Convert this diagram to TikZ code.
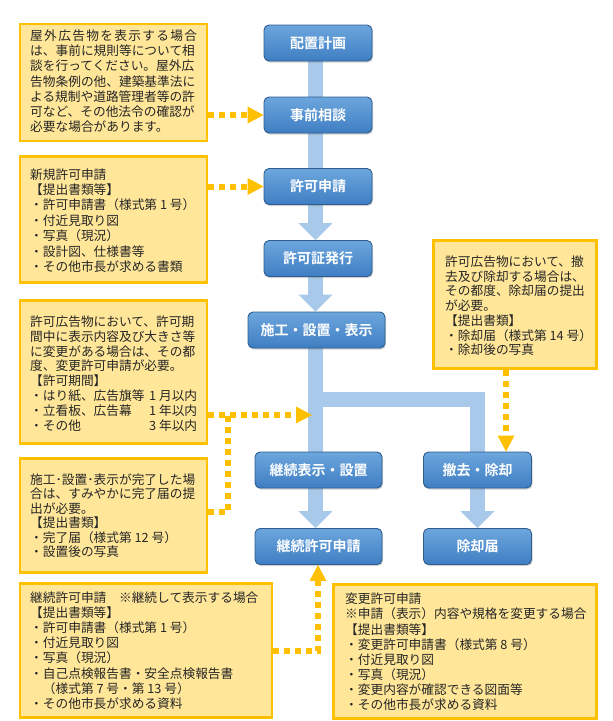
\documentclass[tikz,border=0pt]{standalone}
\usepackage{fontspec}
\setmainfont{Noto Sans CJK JP}[BoldFont={Noto Sans CJK JP Bold}]
\usetikzlibrary{arrows.meta,shadows,backgrounds}
\definecolor{ylfill}{HTML}{FFE699}
\definecolor{ylline}{HTML}{FFC000}
\definecolor{bltop}{HTML}{6CA6DD}
\definecolor{blbot}{HTML}{3F7EC3}
\definecolor{blline}{HTML}{2E5D8E}
\definecolor{trunkblue}{HTML}{A9C9EA}
\definecolor{notetxt}{HTML}{262626}
\newcommand\notepar[3]{\parbox[t]{#1}{\fontsize{12.7}{#2}\selectfont #3}}
\newcommand\fullline[1]{\leavevmode\hbox to 167pt{#1}}
\tikzset{
  flowbox/.style={rectangle, rounded corners=5pt, draw=blline, line width=0.9pt,
    top color=bltop, bottom color=blbot, text=white, inner sep=0pt,
    font=\fontsize{14}{16}\selectfont\bfseries, minimum height=36pt,
    drop shadow={opacity=0.3,shadow xshift=1pt,shadow yshift=-1.5pt,fill=black!60}},
  notebox/.style={rectangle, draw=ylline, fill=ylfill, line width=2.2pt, inner sep=0pt},
  notetext/.style={anchor=base west, inner sep=0pt, text=notetxt},
  dotline/.style={draw=ylline, line width=6pt, dash pattern=on 6pt off 5pt},
  dotarrow/.style={dotline, -{Triangle[length=16pt,width=17pt,line width=0pt]}},
  stem/.style={draw=trunkblue, line width=15pt},
  stemarrow/.style={stem, -{Triangle[length=17pt,width=34pt,line width=0pt]}},
}
\begin{document}
\begin{tikzpicture}[x=1pt,y=-1pt]
\useasboundingbox (0,0) rectangle (613,721);

% flow boxes
\node[flowbox, minimum width=108pt] (s1) at (318,43) {配置計画};
\node[flowbox, minimum width=108pt] (s2) at (318,115) {事前相談};
\node[flowbox, minimum width=108pt] (s3) at (318,186.5) {許可申請};
\node[flowbox, minimum width=108pt] (s4) at (318,258.5) {許可証発行};
\node[flowbox, minimum width=137pt] (s5) at (316.5,330) {施工・設置・表示};
\node[flowbox, minimum width=127pt] (s6) at (318.5,470) {継続表示・設置};
\node[flowbox, minimum width=108pt] (s8) at (477.5,470) {撤去・除却};
\node[flowbox, minimum width=127pt] (s7) at (318.5,546.5) {継続許可申請};
\node[flowbox, minimum width=108pt] (s9) at (477.5,546.5) {除却届};

% trunk
\coordinate (tx) at (315.5,0);
\coordinate (br) at (315.5,399.5);
\begin{scope}[on background layer]
\draw[stem] (s1 -| tx) -- (s3 -| tx);
\draw[stemarrow] (s3 -| tx) -- (s4.north -| tx);
\draw[stemarrow] (s4 -| tx) -- (s5.north -| tx);
\draw[stem] (s5 -| tx) -- (s6 -| tx);
\draw[stemarrow] (s6 -| tx) -- (s7.north -| tx);
\draw[stem] (br) -| (s8);
\draw[stemarrow] (s8) -- (s9.north);
\end{scope}

% note boxes
\node[notebox, minimum width=187pt, minimum height=117pt] (n1) at (113.8,82.5) {};
\node[notebox, minimum width=187pt, minimum height=126pt] (n2) at (113.8,219.5) {};
\node[notebox, minimum width=187pt, minimum height=143pt] (n3) at (113.8,372) {};
\node[notebox, minimum width=187pt, minimum height=114pt] (n4) at (113.8,515.5) {};
\node[notebox, minimum width=252pt, minimum height=134pt] (n5) at (146.3,650.5) {};
\node[notebox, minimum width=263pt, minimum height=134pt] (n6) at (465,651.5) {};
\node[notebox, minimum width=163pt, minimum height=128pt] (n7) at (515,304.5) {};

\node[notetext] (t1) at (30,40.5) {\notepar{170pt}{15.2pt}{%
\fullline{屋\hfil 外\hfil 広\hfil 告\hfil 物\hfil を\hfil 表\hfil 示\hfil す\hfil る\hfil 場\hfil 合}\\
は、事前に規則等について相\\
談を行ってください。屋外広\\
告物条例の他、建築基準法に\\
よる規制や道路管理者等の許\\
可など、その他法令の確認が\\
必要な場合があります。}};

\node[notetext] (t2) at (30,179.1) {\notepar{170pt}{15.4pt}{%
新規許可申請\\
【提出書類等】\\
・許可申請書（様式第 1 号）\\
・付近見取り図\\
・写真（現況）\\
・設計図、仕様書等\\
・その他市長が求める書類}};

\node[notetext] (t3) at (30,326.5) {\notepar{170pt}{14.8pt}{%
許可広告物において、許可期\\
間中に表示内容及び大きさ等\\
に変更がある場合は、その都\\
度、変更許可申請が必要。\\
【許可期間】\\
\fullline{・はり紙、広告旗等\hfill 1 月以内}\\
\fullline{・立看板、広告幕\hfill 1 年以内}\\
\fullline{・その他\hfill 3 年以内}}};

\node[notetext] (t4) at (30,484.1) {\notepar{170pt}{14.5pt}{%
施工･設置･表示が完了した場\\
合は、すみやかに完了届の提\\
出が必要。\\
【提出書類】\\
・完了届（様式第 12 号）\\
・設置後の写真}};

\node[notetext] (t5) at (30,602.5) {\notepar{240pt}{15.1pt}{%
継続許可申請　※継続して表示する場合\\
【提出書類等】\\
・許可申請書（様式第 1 号）\\
・付近見取り図\\
・写真（現況）\\
・自己点検報告書・安全点検報告書\\
　（様式第 7 号・第 13 号）\\
・その他市長が求める資料}};

\node[notetext] (t6) at (345,603.8) {\notepar{245pt}{15.1pt}{%
変更許可申請\\
※申請（表示）内容や規格を変更する場合\\
【提出書類等】\\
・変更許可申請書（様式第 8 号）\\
・付近見取り図\\
・写真（現況）\\
・変更内容が確認できる図面等\\
・その他市長が求める資料}};

\node[notetext] (t7) at (445,266.5) {\notepar{150pt}{14.7pt}{%
許可広告物において、撤\\
去及び除却する場合は、\\
その都度、除却届の提出\\
が必要。\\
【提出書類】\\
・除却届（様式第 14 号）\\
・除却後の写真}};

% dotted connectors
\coordinate (t3p) at (312,415);
\coordinate (j3) at (228,415);
\coordinate (j4) at (228,512);
\coordinate (d7) at (506,0);
\coordinate (c5) at (318,651);
\draw[dotarrow] (n1.east |- s2.west) -- (s2.west);
\draw[dotarrow] (n2.east |- s3.west) -- (s3.west);
\draw[dotarrow] (n3.east |- t3p) -- (t3p);
\draw[dotline] (n4.east |- j4) -- (j4) -- (j3);
\draw[dotarrow] (n7.south -| d7) -- (s8.north -| d7);
\draw[dotarrow] (n5.east |- c5) -- (c5) -- (s7.south -| c5);
\end{tikzpicture}
\end{document}
